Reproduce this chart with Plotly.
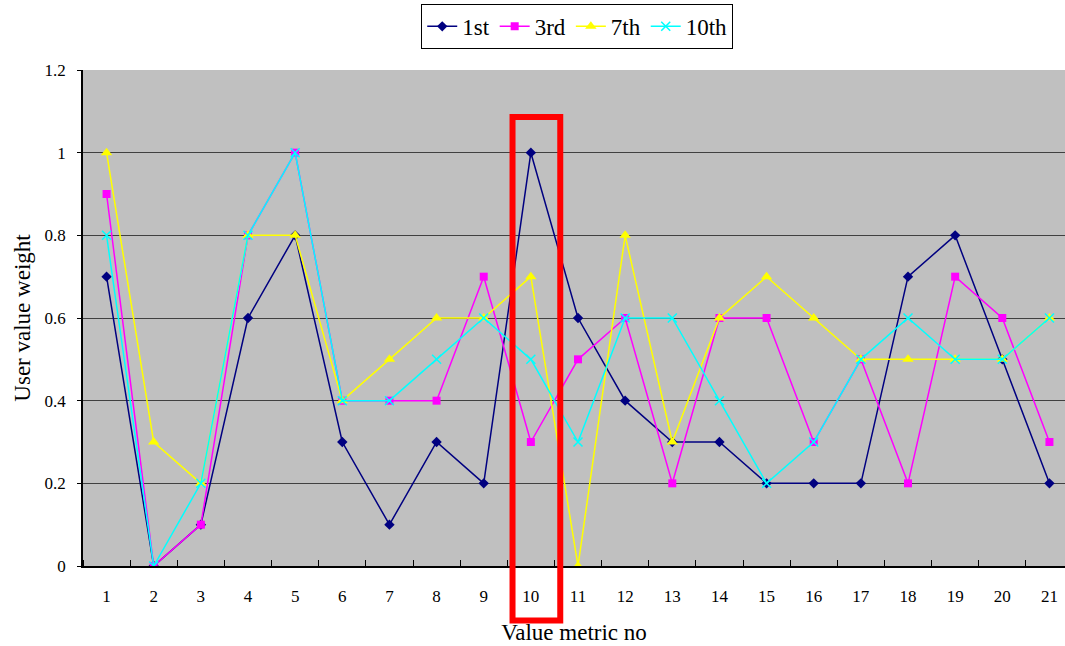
import plotly.graph_objects as go

metrics = list(range(1, 22))
first = [0.7, 0.0, 0.1, 0.6, 0.8, 0.3, 0.1, 0.3, 0.2, 1.0, 0.6, 0.4, 0.3, 0.3, 0.2, 0.2, 0.2, 0.7, 0.8, 0.5, 0.2]
third = [0.9, 0.0, 0.1, 0.8, 1.0, 0.4, 0.4, 0.4, 0.7, 0.3, 0.5, 0.6, 0.2, 0.6, 0.6, 0.3, 0.5, 0.2, 0.7, 0.6, 0.3]
seventh = [1.0, 0.3, 0.2, 0.8, 0.8, 0.4, 0.5, 0.6, 0.6, 0.7, 0.0, 0.8, 0.3, 0.6, 0.7, 0.6, 0.5, 0.5, 0.5, 0.5, 0.6]
tenth = [0.8, 0.0, 0.2, 0.8, 1.0, 0.4, 0.4, 0.5, 0.6, 0.5, 0.3, 0.6, 0.6, 0.4, 0.2, 0.3, 0.5, 0.6, 0.5, 0.5, 0.6]
series_names = ["1st", "3rd", "7th", "10th"]

FONT = "Liberation Serif, Times New Roman, serif"

fig = go.Figure()
fig.add_trace(go.Scatter(x=metrics, y=first, name=series_names[0], mode="lines+markers",
                         line=dict(color="#000080", width=1.5),
                         marker=dict(symbol="diamond", size=8, color="#000080")))
fig.add_trace(go.Scatter(x=metrics, y=third, name=series_names[1], mode="lines+markers",
                         line=dict(color="#FF00FF", width=1.5),
                         marker=dict(symbol="square", size=8, color="#FF00FF")))
fig.add_trace(go.Scatter(x=metrics, y=seventh, name=series_names[2], mode="lines+markers",
                         line=dict(color="#FFFF00", width=1.5),
                         marker=dict(symbol="triangle-up", size=10, color="#FFFF00")))
fig.add_trace(go.Scatter(x=metrics, y=tenth, name=series_names[3], mode="lines+markers",
                         line=dict(color="#00FFFF", width=1.5),
                         marker=dict(symbol="x-thin-open", size=9, color="#00FFFF",
                                     line=dict(color="#00FFFF", width=1.5))))

fig.update_layout(
    width=1065, height=646,
    margin=dict(l=83, r=0, t=70, b=80),
    paper_bgcolor="white",
    plot_bgcolor="#C0C0C0",
    font=dict(family=FONT, size=17, color="black"),
    legend=dict(orientation="h", xref="container", yref="container",
                x=0.542, xanchor="center", y=0.994, yanchor="top",
                bordercolor="black", borderwidth=1, bgcolor="white",
                font=dict(family=FONT, size=23), itemwidth=30, tracegroupgap=0),
    xaxis=dict(range=[0.5, 21.33], tickvals=metrics, ticktext=[str(m) for m in metrics],
               ticks="", showgrid=False, zeroline=False, showline=True,
               linecolor="black", linewidth=1.5, ticklabelstandoff=14,
               minor=dict(ticks="inside", tick0=0.5, dtick=1, ticklen=6,
                          tickcolor="black", tickwidth=1, showgrid=False),
               tickfont=dict(family=FONT, size=17),
               title=dict(text="Value metric no", font=dict(family=FONT, size=23), standoff=19)),
    yaxis=dict(range=[0, 1.2], dtick=0.2, showgrid=True, gridcolor="#404040", gridwidth=1,
               zeroline=False, showline=True, linecolor="black", linewidth=1.5,
               ticks="outside", ticklen=4, tickcolor="black", ticklabelstandoff=8,
               tickfont=dict(family=FONT, size=17),
               title=dict(text="User value weight", font=dict(family=FONT, size=23), standoff=8)),
)

fig.add_shape(type="rect", xref="paper", yref="paper",
              x0=0.4374, x1=0.486, y0=-0.11, y1=0.905,
              line=dict(color="#FF0000", width=6), fillcolor="rgba(0,0,0,0)", layer="above")

fig.write_html("out.html")
